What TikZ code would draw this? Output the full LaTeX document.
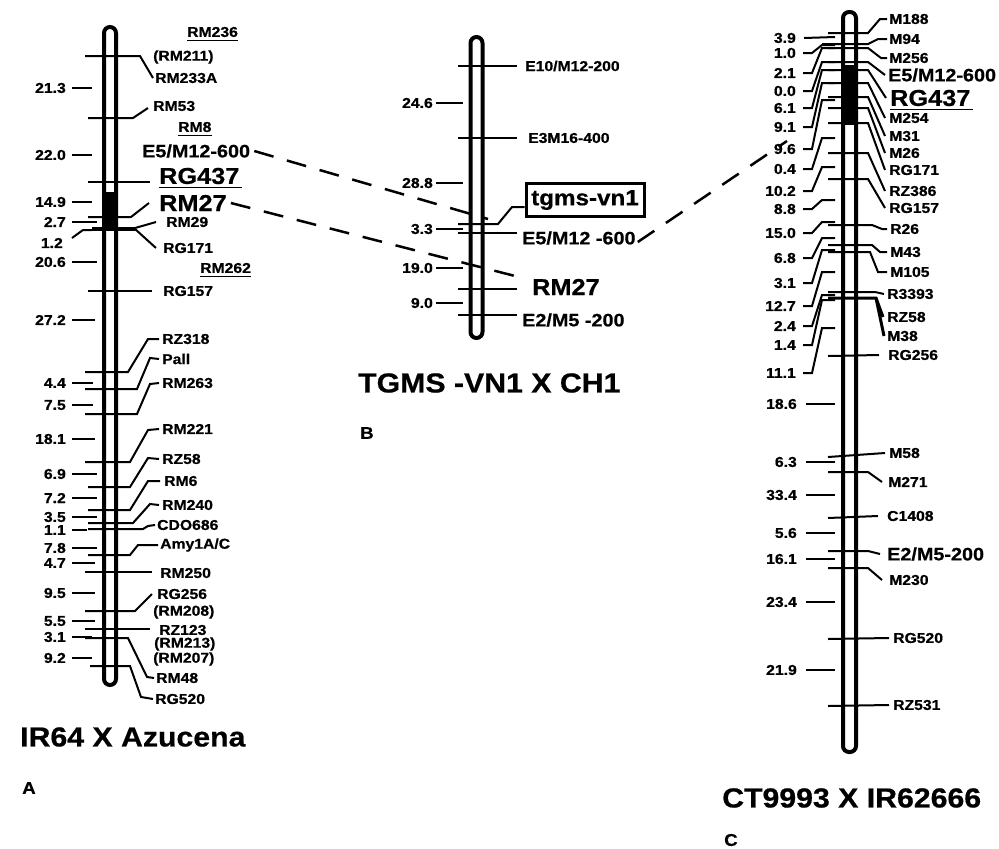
\documentclass[tikz,border=0pt]{standalone}
\usepackage{fontspec}
\setmainfont{Liberation Sans}[FakeStretch=1.1, BoldFeatures={FakeBold=0.6}]
\begin{document}
\begin{tikzpicture}[x=1pt,y=-1pt,
  rodst/.style={line width=4pt, rounded corners=6pt},
  mkl/.style={line width=2pt},
  dsh/.style={line width=2.5pt, dash pattern=on 20pt off 14pt},
  ls/.style={font=\bfseries\fontsize{14.3}{14.3}\selectfont, inner sep=0pt, anchor=west},
  ns/.style={font=\bfseries\fontsize{14.3}{14.3}\selectfont, inner sep=0pt, anchor=east},
  lm/.style={font=\bfseries\fontsize{18}{18}\selectfont, inner sep=0pt, anchor=west},
  lb/.style={font=\bfseries\fontsize{23}{23}\selectfont, inner sep=0pt, anchor=west},
  ttl/.style={font=\bfseries\fontsize{27.5}{27.5}\selectfont, inner sep=0pt, anchor=west},
  pletter/.style={font=\bfseries\fontsize{17}{17}\selectfont, inner sep=0pt, anchor=west},
  ul/.style={line width=1.2pt},
]
\useasboundingbox (0,0) rectangle (999,849);
\fill[white] (0,0) rectangle (999,849);

%% ---------------- A ----------------
\fill (104,192) rectangle (116,229);
\draw[rodst] (104,27) rectangle (116,685);

\node[ls] (aRM236) at (187,32) {RM236};
\node[ls] (aRM211) at (153,57) {(RM211)};
\node[ls] (aRM233A) at (155,78) {RM233A};
\node[ls] (aRM53) at (153,106) {RM53};
\node[ls] (aRM8) at (178,127) {RM8};
\node[lm] (aE5) at (142,151) {E5/M12-600};
\node[lb] (aRG437) at (159,176) {RG437};
\node[lb] (aRM27) at (159,203) {RM27};
\node[ls] (aRM29) at (166,222) {RM29};
\node[ls] (aRG171) at (163,248) {RG171};
\node[ls] (aRM262) at (200,268) {RM262};
\node[ls] (aRG157) at (163,291) {RG157};
\node[ls] (aRZ318) at (162,339) {RZ318};
\node[ls] (aPall) at (162,359) {Pall};
\node[ls] (aRM263) at (162,383) {RM263};
\node[ls] (aRM221) at (162,429) {RM221};
\node[ls] (aRZ58) at (162,459) {RZ58};
\node[ls] (aRM6) at (164,481) {RM6};
\node[ls] (aRM240) at (162,505) {RM240};
\node[ls] (aCDO) at (157,525) {CDO686};
\node[ls] (aAmy) at (160,545) {Amy1A/C};
\node[ls] (aRM250) at (160,573) {RM250};
\node[ls] (aRG256) at (157,594) {RG256};
\node[ls] (aRM208) at (153,612) {(RM208)};
\node[ls] (aRZ123) at (159,630) {RZ123};
\node[ls] (aRM213) at (154,644) {(RM213)};
\node[ls] (aRM207) at (153,659) {(RM207)};
\node[ls] (aRM48) at (156,678) {RM48};
\node[ls] (aRG520) at (155,699) {RG520};

\foreach \n in {aRM236,aRM8,aRM262}
  \draw[ul] ([yshift=-3pt]\n.south west) -- ([yshift=-3pt]\n.south east);
\draw[ul] ([yshift=-3pt]aRG437.south west) -- ([yshift=-3pt,xshift=2pt]aRG437.south east);

\draw[mkl] (85,56) -- (140,56) -- ([xshift=-2pt]aRM233A.west);
\draw[mkl] (88,118) -- (133,118) -- ([xshift=-5pt,yshift=-2pt]aRM53.west);
\draw[mkl] (88,182) -- (150,182);
\draw[mkl] (88,217) -- (131,217) -- ([xshift=-10pt]aRM27.west);
\draw[mkl] (92,228) -- (135,228) -- ([xshift=-10pt]aRM29.west);
\draw[mkl] (135,229) -- ([xshift=-7pt]aRG171.west);
\draw[mkl] (88,230) -- (135,230);
\draw[mkl] (88,291) -- (152,291);
\draw[mkl] (85,372) -- (128,372) -- (148,339) -- ([xshift=-3pt]aRZ318.west);
\draw[mkl] (85,389) -- (137,389) -- (150,358) -- ([xshift=-3pt]aPall.west);
\draw[mkl] (85,414) -- (137,414) -- (150,384) -- ([xshift=-3pt]aRM263.west);
\draw[mkl] (85,462) -- (130,462) -- (148,430) -- ([xshift=-3pt]aRM221.west);
\draw[mkl] (88,487) -- (130,487) -- (148,458) -- ([xshift=-3pt]aRZ58.west);
\draw[mkl] (88,510) -- (130,510) -- (148,481) -- ([xshift=-4pt]aRM6.west);
\draw[mkl] (88,523) -- (133,523) -- (150,504) -- ([xshift=-3pt]aRM240.west);
\draw[mkl] (88,529) -- (143,529) -- (148,526) -- ([xshift=-2pt]aCDO.west);
\draw[mkl] (88,555) -- (130,555) -- (138,545) -- ([xshift=-2pt]aAmy.west);
\draw[mkl] (85,572) -- (152,572);
\draw[mkl] (85,611) -- (135,611) -- ([xshift=-5pt]aRG256.west);
\draw[mkl] (85,629) -- (150,629);
\draw[mkl] (85,638) -- (128,638) -- (147,677) -- ([xshift=-2pt]aRM48.west);
\draw[mkl] (90,666) -- (130,666) -- (141,697) -- ([xshift=-2pt]aRG520.west);

\foreach \t/\y/\b in {21.3/88/92, 22.0/155/92, 14.9/202/92, 2.7/222/97, 20.6/262/97,
  27.2/320/95, 4.4/383/93, 7.5/405/93, 18.1/439/95, 6.9/474/97, 7.2/498/97, 3.5/517/97,
  1.1/530/87, 7.8/548/97, 4.7/563/95, 9.5/593/95, 5.5/621/95, 3.1/637/92, 9.2/658/92}
{
  \node[ns] (na\y) at (66,\y) {\t};
  \draw[mkl] ([xshift=6pt]na\y.east) -- (\b,\y);
}
\node[ns] (na243) at (63,243) {1.2};
\draw[mkl] (72,238) -- (83,230) -- (92,230);

\node[ttl] (tA) at (20,737) {IR64 X Azucena};
\node[pletter] (lA) at (22,788) {A};

%% ---------------- B ----------------
\draw[rodst] (470.5,37) rectangle (482.5,338);
\node[ls] (bE10) at (525,66) {E10/M12-200};
\node[ls] (bE3) at (528,138) {E3M16-400};
\node[lm] (bE5) at (522,238) {E5/M12 -600};
\node[lb] (bRM27) at (532,287) {RM27};
\node[lm] (bE2) at (522,320) {E2/M5 -200};
\node[draw, line width=3pt, font=\bfseries\fontsize{22}{22}\selectfont, inner sep=0pt,
      minimum width=118pt, minimum height=33pt] (tg) at (585,200) {tgms-vn1};

\draw[mkl] (458,66) -- (517,66);
\draw[mkl] (458,138) -- (517,138);
\draw[mkl] (458,224) -- (498,224) -- (512,207) -- ([yshift=-7pt]tg.west);
\draw[mkl] (458,233) -- (517,233);
\draw[mkl] (458,289) -- (517,289);
\draw[mkl] (458,315) -- (517,315);

\foreach \t/\y in {24.6/103, 28.8/183, 3.3/229, 19.0/268, 9.0/303}
{
  \node[ns] (nb\y) at (433,\y) {\t};
  \draw[mkl] ([xshift=3pt]nb\y.east) -- (463,\y);
}

\node[ttl] (tB) at (358,383) {TGMS -VN1 X CH1};
\node[pletter] (lB) at (360,433) {B};

%% ---------------- C ----------------
\fill (843,65) rectangle (856,125);
\draw[rodst] (843,12) rectangle (856,752);

% straight interval ticks
\node[ns] (nc38) at (796,38) {3.9};
\draw[mkl] ([xshift=8pt]nc38.east) -- (835,37);
\foreach \t/\y in {18.6/404, 6.3/462, 33.4/495, 5.6/533, 16.1/559, 23.4/602, 21.9/670}
{
  \node[ns] (nc\y) at (797,\y) {\t};
  \draw[mkl] ([xshift=9pt]nc\y.east) -- (835,\y);
}
% staircase interval ticks
\foreach \t/\y/\s in {1.0/53/45, 2.1/73/48, 0.0/91/62, 6.1/108/70, 9.1/127/83, 9.6/149/100,
  0.4/169/138, 10.2/191/167, 8.8/209/200, 15.0/233/222, 6.8/258/238, 3.1/283/250,
  12.7/306/272, 2.4/326/295, 1.4/345/300, 11.1/373/328}
{
  \node[ns] (nc\y) at (796,\y) {\t};
  \draw[mkl] ([xshift=7pt]nc\y.east) -- (812,\y) -- (822,\s) -- (835,\s);
}

% right labels
\node[ls] (cM188) at (889,19) {M188};
\node[ls] (cM94) at (889,39) {M94};
\node[ls] (cM256) at (889,58) {M256};
\node[lm] (cE5) at (888,75) {E5/M12-600};
\node[lb] (cRG437) at (890,98) {RG437};
\node[ls] (cM254) at (889,118) {M254};
\node[ls] (cM31) at (889,136) {M31};
\node[ls] (cM26) at (889,153) {M26};
\node[ls] (cRG171) at (889,170) {RG171};
\node[ls] (cRZ386) at (889,191) {RZ386};
\node[ls] (cRG157) at (889,208) {RG157};
\node[ls] (cR26) at (890,229) {R26};
\node[ls] (cM43) at (890,252) {M43};
\node[ls] (cM105) at (890,272) {M105};
\node[ls] (cR3393) at (887,294) {R3393};
\node[ls] (cRZ58) at (887,317) {RZ58};
\node[ls] (cM38) at (887,336) {M38};
\node[ls] (cRG256) at (888,355) {RG256};
\node[ls] (cM58) at (889,453) {M58};
\node[ls] (cM271) at (888,482) {M271};
\node[ls] (cC1408) at (887,516) {C1408};
\node[lm] (cE2) at (887,554) {E2/M5-200};
\node[ls] (cM230) at (889,580) {M230};
\node[ls] (cRG520) at (893,638) {RG520};
\node[ls] (cRZ531) at (893,705) {RZ531};
\draw[ul] ([yshift=-3pt]cRG437.south west) -- ([yshift=-3pt,xshift=2pt]cRG437.south east);

\draw[mkl] (828,33) -- (868,33) -- (880,19) -- ([xshift=-2pt]cM188.west);
\draw[mkl] (822,44) -- (868,44) -- (878,39) -- ([xshift=-2pt]cM94.west);
\draw[mkl] (828,48) -- (868,48) -- (881,58) -- ([xshift=-2pt]cM256.west);
\draw[mkl] (828,62) -- (868,62) -- ([xshift=-3pt]cE5.west);
\draw[mkl] (828,70) -- (868,70) -- ([xshift=-4pt]cRG437.west);
\draw[mkl] (828,83) -- (868,83) -- ([xshift=-4pt]cM254.west);
\draw[mkl] (828,97) -- (868,97) -- ([xshift=-4pt]cM31.west);
\draw[mkl] (828,108) -- (868,108) -- ([xshift=-4pt]cM26.west);
\draw[mkl] (828,123) -- (868,123) -- ([xshift=-4pt]cRG171.west);
\draw[mkl] (828,153) -- (868,153) -- ([xshift=-4pt]cRZ386.west);
\draw[mkl] (828,179) -- (868,179) -- ([xshift=-4pt]cRG157.west);
\draw[mkl] (828,225) -- (872,225) -- (882,229) -- ([xshift=-3pt]cR26.west);
\draw[mkl] (828,245) -- (872,245) -- (880,252) -- ([xshift=-3pt]cM43.west);
\draw[mkl] (828,252) -- (870,252) -- (878,272) -- ([xshift=-3pt]cM105.west);
\draw[mkl] (828,292) -- (875,292) -- ([xshift=-3pt]cR3393.west);
\draw[line width=3pt] (828,298) -- (876,298) -- ([xshift=-4pt]cRZ58.west);
\draw[line width=3pt] (876,298) -- ([xshift=-3pt]cM38.west);
\draw[mkl] (828,356) -- ([xshift=-9pt]cRG256.west);
\draw[mkl] (828,457) -- ([xshift=-4pt]cM58.west);
\draw[mkl] (828,472) -- (868,472) -- ([xshift=-6pt]cM271.west);
\draw[mkl] (828,518) -- ([xshift=-9pt]cC1408.west);
\draw[mkl] (828,551) -- (868,551) -- ([xshift=-7pt]cE2.west);
\draw[mkl] (828,568) -- (868,568) -- ([xshift=-7pt]cM230.west);
\draw[mkl] (828,639) -- ([xshift=-4pt]cRG520.west);
\draw[mkl] (828,706) -- ([xshift=-4pt]cRZ531.west);

\node[ttl] (tC) at (722,798) {CT9993 X IR62666};
\node[pletter] (lC) at (724,840) {C};

%% ---------------- dashed links ----------------
\coordinate (d1) at (488,219);
\coordinate (d2) at (515,276);
\coordinate (d3) at (787,141);
\draw[dsh] ([xshift=4pt]aE5.east) -- (d1);
\draw[dsh] ([xshift=4pt]aRM27.east) -- (d2);
\draw[dsh] ([xshift=2pt,yshift=-4pt]bE5.east) -- (d3);
\end{tikzpicture}
\end{document}
